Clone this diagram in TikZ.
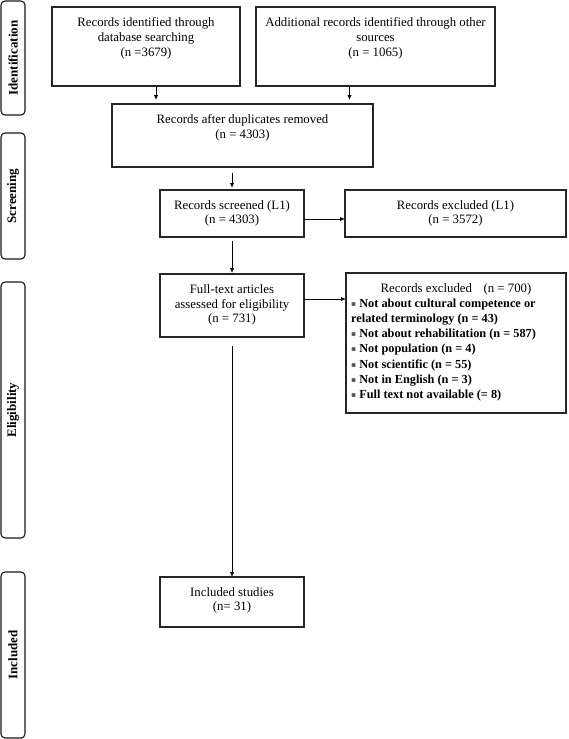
\documentclass[tikz,border=0pt]{standalone}
\usepackage{fontspec}
\setmainfont{Liberation Serif}
\newfontfamily\bulfont{DejaVu Sans}
\usetikzlibrary{arrows.meta}
\newcommand{\bul}{{\bulfont\fontsize{7.5}{7.5}\selectfont\color{black!65}\raisebox{1pt}{▪}}\ }
\begin{document}
\begin{tikzpicture}[x=1pt,y=-1pt,
  box/.style={draw=black!85, line width=1.2pt, inner sep=0pt, outer sep=0pt},
  phase/.style={draw=black!90, line width=1.1pt, rounded corners=4pt, inner sep=0pt},
  txt/.style={align=center, font=\fontsize{12.8}{14.8}\selectfont, inner sep=0pt},
  btxt/.style={align=left, font=\fontsize{12.3}{15.2}\selectfont\bfseries, inner sep=0pt},
  arr/.style={-{Latex[length=5pt,width=4.5pt]}, line width=1pt},
  plab/.style={rotate=90, font=\fontsize{13}{15}\selectfont\bfseries, inner sep=0pt}]
\useasboundingbox (0,0) rectangle (568,739);
\fill[white] (0,0) rectangle (568,739);

% phase boxes
\node[phase, minimum width=24pt, minimum height=114pt] (p1) at (13,58) {};
\node[phase, minimum width=24pt, minimum height=126pt] (p2) at (13,196) {};
\node[phase, minimum width=24pt, minimum height=256pt] (p3) at (13,410) {};
\node[phase, minimum width=24pt, minimum height=166pt] (p4) at (13,655) {};
\node[plab] (l1) at (p1.center) {Identification};
\node[plab] (l2) at (p2.center) {Screening};
\node[plab] (l3) at (p3.center) {Eligibility};
\node[plab] (l4) at (p4.center) {Included};

% boxes
\node[box, minimum width=188pt, minimum height=79pt] (A) at (146,46.5) {};
\node[box, minimum width=239pt, minimum height=79pt] (B) at (375.5,46.5) {};
\node[box, minimum width=261pt, minimum height=63pt] (C) at (242.5,135.5) {};
\node[box, minimum width=144pt, minimum height=47pt] (D) at (232,213.5) {};
\node[box, minimum width=221pt, minimum height=47pt] (E) at (455.5,213.5) {};
\node[box, minimum width=144pt, minimum height=63pt] (F) at (232,305.5) {};
\node[box, minimum width=220pt, minimum height=140pt] (G) at (456,343) {};
\node[box, minimum width=144pt, minimum height=50pt] (H) at (232,602) {};

% texts
\node[txt] (tA) at (146,38.5) {Records identified through\\database searching\\(n =3679)};
\node[txt] (tB) at (375.5,38.5) {Additional records identified through other\\sources\\(n = 1065)};
\node[txt] (tC) at (242.5,127.5) {Records after duplicates removed\\(n = 4303)};
\node[txt] (tD) at (232,213.5) {Records screened (L1)\\(n = 4303)};
\node[txt] (tE) at (455.5,213.5) {Records excluded (L1)\\(n = 3572)};
\node[txt] (tF) at (232,305) {Full-text articles\\assessed for eligibility\\(n = 731)};
\node[txt] (tH) at (232,600.5) {Included studies\\(n= 31)};
\node[txt] (tG) at (456,289) {Records excluded\hspace{0.9em}(n = 700)};
\node[btxt, anchor=west] (tG2) at (351,350) {\bul Not about cultural competence or\\related terminology (n = 43)\\\bul Not about rehabilitation (n = 587)\\\bul Not population (n = 4)\\\bul Not scientific (n = 55)\\\bul Not in English (n = 3)\\\bul Full text not available (= 8)};

% arrows
\draw[arr, shorten <=1pt, shorten >=4pt] ([xshift=10pt]A.south) -- ([xshift=10pt]A.south |- C.north);
\draw[arr, shorten <=1pt, shorten >=4pt] ([xshift=-26pt]B.south) -- ([xshift=-26pt]B.south |- C.north);
\draw[arr, shorten <=6pt, shorten >=2pt] (C.south -| D.north) -- (D.north);
\draw[arr] ([yshift=-5.5pt]D.east) -- ([yshift=-5.5pt]D.east -| E.west);
\draw[arr, shorten <=4pt, shorten >=1pt] (D.south) -- (F.north);
\draw[arr] ([yshift=6.5pt]F.east) -- ([yshift=6.5pt]F.east -| G.west);
\draw[arr, shorten <=9pt] (F.south) -- (H.north);
\end{tikzpicture}
\end{document}
